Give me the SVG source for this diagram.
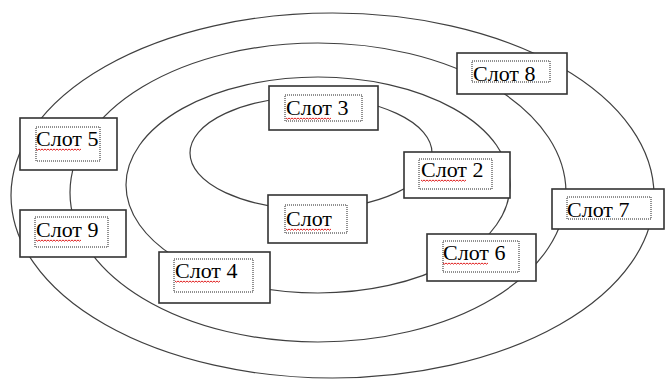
<svg xmlns="http://www.w3.org/2000/svg" xmlns:xlink="http://www.w3.org/1999/xlink" width="665" height="380" viewBox="0 0 665 380">
<style>
.ring{fill:none;stroke:#404040;stroke-width:1.2}
.box{fill:#fff;stroke:#333;stroke-width:1.6}
.dot{fill:none;stroke:#222;stroke-width:1;stroke-dasharray:1 1}
.lbl{font-family:"Liberation Serif","Times New Roman","DejaVu Serif",serif;font-size:22px;fill:#000}
.sq{fill:none;stroke:#e02020;stroke-width:1}
</style>
<defs>
<path id="sq" class="sq" d="M0 0l1.5 1.2l1.5 -1.2l1.5 1.2l1.5 -1.2l1.5 1.2l1.5 -1.2l1.5 1.2l1.5 -1.2l1.5 1.2l1.5 -1.2l1.5 1.2l1.5 -1.2l1.5 1.2l1.5 -1.2l1.5 1.2l1.5 -1.2l1.5 1.2l1.5 -1.2l1.5 1.2l1.5 -1.2l1.5 1.2l1.5 -1.2l1.5 1.2l1.5 -1.2l1.5 1.2l1.5 -1.2l1.5 1.2l1.5 -1.2l1.5 1.2l1.5 -1.2"/>
</defs>
<rect width="665" height="380" fill="#fff"/>
<g id="connectors">
<ellipse class="ring" cx="332.5" cy="195.5" rx="321.5" ry="182.5"/>
<ellipse class="ring" cx="318" cy="192.5" rx="248" ry="149.5"/>
<ellipse class="ring" cx="318" cy="185" rx="192" ry="108"/>
<ellipse class="ring" cx="311" cy="153" rx="121" ry="56"/>
</g>
<g id="slot3">
<rect class="box" x="269" y="86" width="109" height="44"/>
<rect class="dot" x="285" y="95" width="77" height="26"/>
<text class="lbl" x="286" y="115">Слот 3</text>
<use xlink:href="#sq" x="286" y="118"/>
</g>
<g id="slot5">
<rect class="box" x="20" y="118" width="97" height="52"/>
<rect class="dot" x="36" y="127" width="64" height="34"/>
<text class="lbl" x="36" y="146">Слот 5</text>
<use xlink:href="#sq" x="36" y="149"/>
</g>
<g id="slot8">
<rect class="box" x="457" y="53" width="110" height="41"/>
<rect class="dot" x="472" y="61" width="78" height="21"/>
<text class="lbl" x="473" y="81">Слот 8</text>
</g>
<g id="slot2">
<rect class="box" x="404" y="152" width="106" height="46"/>
<rect class="dot" x="419" y="159" width="73" height="30"/>
<text class="lbl" x="421" y="177">Слот 2</text>
<use xlink:href="#sq" x="421" y="180"/>
</g>
<g id="slot7">
<rect class="box" x="552" y="189" width="112" height="40"/>
<rect class="dot" x="567" y="197" width="84" height="22"/>
<text class="lbl" x="567" y="217">Слот 7</text>
</g>
<g id="slot">
<rect class="box" x="268" y="195" width="99" height="48"/>
<rect class="dot" x="285" y="205" width="62" height="28"/>
<text class="lbl" x="286" y="226">Слот</text>
<use xlink:href="#sq" x="286" y="229"/>
</g>
<g id="slot9">
<rect class="box" x="20" y="210" width="106" height="47"/>
<rect class="dot" x="35" y="217" width="73" height="30"/>
<text class="lbl" x="36" y="237">Слот 9</text>
<use xlink:href="#sq" x="36" y="240"/>
</g>
<g id="slot6">
<rect class="box" x="427" y="234" width="109" height="47"/>
<rect class="dot" x="443" y="241" width="76" height="31"/>
<text class="lbl" x="443" y="260">Слот 6</text>
<use xlink:href="#sq" x="443" y="263"/>
</g>
<g id="slot4">
<rect class="box" x="159" y="252" width="111" height="51"/>
<rect class="dot" x="174" y="259" width="79" height="33"/>
<text class="lbl" x="175" y="278">Слот 4</text>
<use xlink:href="#sq" x="175" y="281"/>
</g>
</svg>
